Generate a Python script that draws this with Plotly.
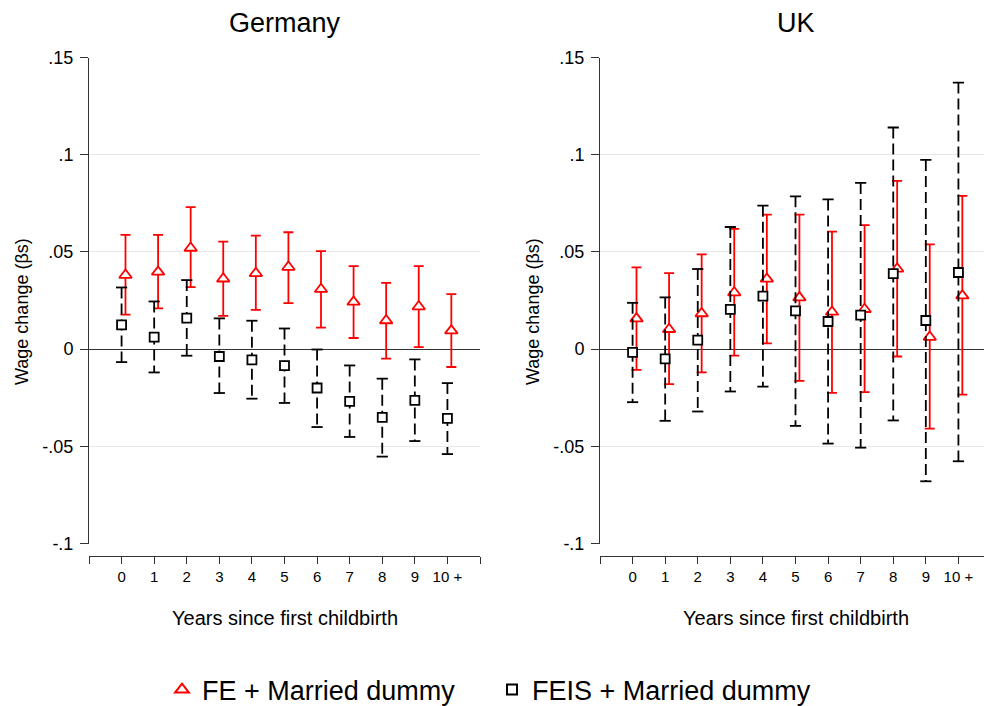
import plotly.graph_objects as go

years = list(range(11))
tick_labels = ["0", "1", "2", "3", "4", "5", "6", "7", "8", "9", "10 +"]

# Germany
de_fe = [0.0381, 0.0397, 0.0520, 0.0362, 0.0390, 0.0422, 0.0308, 0.0243, 0.0147, 0.0219, 0.0095]
de_fe_lo = [0.0177, 0.0209, 0.0319, 0.0171, 0.0202, 0.0236, 0.0110, 0.0057, -0.0049, 0.0010, -0.0092]
de_fe_hi = [0.0588, 0.0588, 0.0730, 0.0553, 0.0584, 0.0601, 0.0504, 0.0427, 0.0341, 0.0427, 0.0283]
de_feis = [0.0125, 0.0062, 0.0159, -0.0038, -0.0055, -0.0085, -0.0200, -0.0269, -0.0351, -0.0264, -0.0356]
de_feis_lo = [-0.0067, -0.0120, -0.0034, -0.0226, -0.0255, -0.0277, -0.0401, -0.0452, -0.0553, -0.0473, -0.0540]
de_feis_hi = [0.0317, 0.0245, 0.0355, 0.0158, 0.0146, 0.0106, -0.0002, -0.0084, -0.0152, -0.0053, -0.0175]

# UK
uk_fe = [0.0157, 0.0102, 0.0183, 0.0291, 0.0361, 0.0265, 0.0191, 0.0205, 0.0413, 0.0062, 0.0275]
uk_fe_lo = [-0.0107, -0.0180, -0.0120, -0.0034, 0.0029, -0.0163, -0.0225, -0.0221, -0.0038, -0.0409, -0.0234]
uk_fe_hi = [0.0420, 0.0391, 0.0487, 0.0618, 0.0692, 0.0692, 0.0604, 0.0638, 0.0865, 0.0539, 0.0788]
uk_feis = [-0.0017, -0.0050, 0.0046, 0.0204, 0.0273, 0.0197, 0.0142, 0.0175, 0.0388, 0.0147, 0.0394]
uk_feis_lo = [-0.0273, -0.0369, -0.0321, -0.0218, -0.0193, -0.0395, -0.0486, -0.0507, -0.0367, -0.0680, -0.0577]
uk_feis_hi = [0.0238, 0.0266, 0.0412, 0.0628, 0.0738, 0.0786, 0.0770, 0.0855, 0.1140, 0.0973, 0.1371]

FE_SHIFT = 0.12
RED = "#ff0000"
FONT = "Arial, Liberation Sans, sans-serif"

W, H = 984, 706
fig = go.Figure()


def add_panel(xa, ya, fe, fe_lo, fe_hi, feis, feis_lo, feis_hi):
    xs = [x + FE_SHIFT for x in years]
    fig.add_trace(go.Scatter(
        x=xs, y=fe, mode="markers", xaxis=xa, yaxis=ya, showlegend=False,
        marker=dict(symbol="triangle-up", size=11, color="white",
                    line=dict(color=RED, width=1.8)),
        error_y=dict(type="data", symmetric=False,
                     array=[h - v for h, v in zip(fe_hi, fe)],
                     arrayminus=[v - l for v, l in zip(fe, fe_lo)],
                     color=RED, thickness=1.8, width=5),
    ))
    lx, ly = [], []
    for x, lo, hi in zip(years, feis_lo, feis_hi):
        lx += [x, x, None]
        ly += [hi, lo, None]
    fig.add_trace(go.Scatter(
        x=lx, y=ly, mode="lines", xaxis=xa, yaxis=ya, showlegend=False,
        line=dict(color="black", width=1.8, dash="11px,5px"), hoverinfo="skip",
    ))
    fig.add_trace(go.Scatter(
        x=years + years, y=feis_lo + feis_hi, mode="markers", xaxis=xa, yaxis=ya,
        showlegend=False, hoverinfo="skip",
        marker=dict(symbol="line-ew", size=8, line=dict(color="black", width=1.8)),
    ))
    fig.add_trace(go.Scatter(
        x=years, y=feis, mode="markers", xaxis=xa, yaxis=ya, showlegend=False,
        marker=dict(symbol="square", size=9, color="white",
                    line=dict(color="black", width=1.8)),
    ))


add_panel("x", "y", de_fe, de_fe_lo, de_fe_hi, de_feis, de_feis_lo, de_feis_hi)
add_panel("x2", "y2", uk_fe, uk_fe_lo, uk_fe_hi, uk_feis, uk_feis_lo, uk_feis_hi)

# legend entries
fig.add_trace(go.Scatter(x=[None], y=[None], mode="markers", name="FE + Married dummy",
                         marker=dict(symbol="triangle-up-open", size=12,
                                     color=RED, line=dict(color=RED, width=2))))
fig.add_trace(go.Scatter(x=[None], y=[None], mode="markers", name="FEIS + Married dummy",
                         marker=dict(symbol="square-open", size=10,
                                     color="black", line=dict(color="black", width=2))))

ydom = [1 - 543.5 / H, 1 - 57.5 / H]
xpos = 1 - 556 / H
yvals = [-0.1, -0.05, 0, 0.05, 0.1, 0.15]
ytext = ["-.1", "-.05", "0", ".05", ".1", ".15"]
xvals = [-1] + years + [11]
xtext = [""] + tick_labels + [""]

xcommon = dict(anchor="free", position=xpos, tickvals=xvals, ticktext=xtext,
               ticks="outside", ticklen=7, tickwidth=1, tickcolor="#333",
               showline=True, linecolor="#333", linewidth=1, showgrid=False,
               zeroline=False, tickfont=dict(family=FONT, size=15, color="black"))
ycommon = dict(domain=ydom, range=[-0.1, 0.15], tickvals=yvals, ticktext=ytext,
               ticks="outside", ticklen=8, tickwidth=1, tickcolor="#333",
               ticklabelstandoff=3,
               showline=True, linecolor="#333", linewidth=1,
               showgrid=True, gridcolor="#e8e8e8", gridwidth=1,
               zeroline=True, zerolinecolor="#333", zerolinewidth=1,
               tickfont=dict(family=FONT, size=18, color="black"))

fig.update_layout(
    width=W, height=H,
    margin=dict(l=0, r=0, t=0, b=0, autoexpand=False),
    paper_bgcolor="white", plot_bgcolor="white",
    font=dict(family=FONT, color="black"),
    xaxis=dict(domain=[89 / W, 480 / W], range=[-1, 11], **xcommon),
    xaxis2=dict(domain=[600 / W, 1], range=[-1, -1 + 384 / (391 / 12)], **xcommon),
    yaxis=dict(anchor="x", **ycommon),
    yaxis2=dict(anchor="x2", **ycommon),
    legend=dict(orientation="h", x=0.5, xanchor="center", y=1 - 690 / H, yanchor="middle",
                entrywidth=285,
                font=dict(family=FONT, size=27, color="black"), bgcolor="rgba(0,0,0,0)"),
    showlegend=True,
)

annos = [
    dict(text="Germany", x=285 / W, y=1 - 23 / H, size=27, angle=0),
    dict(text="UK", x=796 / W, y=1 - 23 / H, size=27, angle=0),
    dict(text="Years since first childbirth", x=285 / W, y=1 - 618 / H, size=20, angle=0),
    dict(text="Years since first childbirth", x=796 / W, y=1 - 618 / H, size=20, angle=0),
    dict(text="Wage change (βs)", x=22 / W, y=1 - 312 / H, size=18, angle=-90),
    dict(text="Wage change (βs)", x=533 / W, y=1 - 312 / H, size=18, angle=-90),
]
for a in annos:
    fig.add_annotation(text=a["text"], x=a["x"], y=a["y"], xref="paper", yref="paper",
                       xanchor="center", yanchor="middle", showarrow=False,
                       textangle=a["angle"], font=dict(family=FONT, size=a["size"], color="black"))

fig.write_html("out.html")
